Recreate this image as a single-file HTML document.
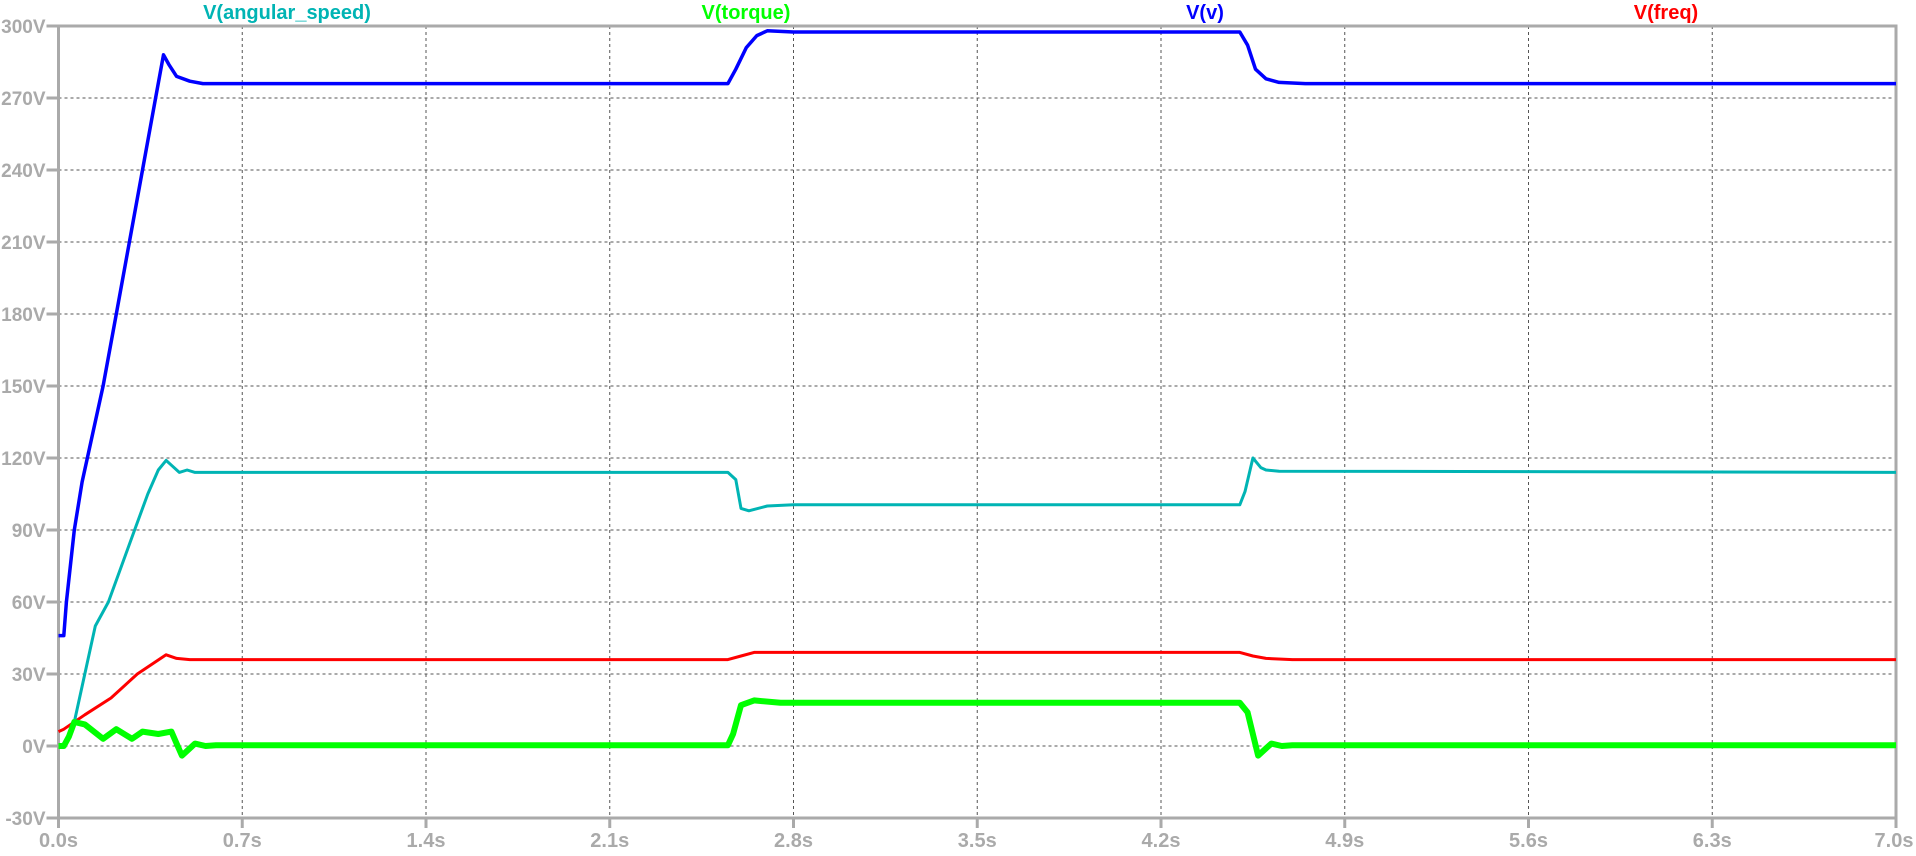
<!DOCTYPE html>
<html><head><meta charset="utf-8"><style>
html,body{margin:0;padding:0;background:#fff;}
svg{display:block;font-family:"Liberation Sans",Arial,sans-serif;}
</style></head><body>
<svg id="chart" width="1916" height="856" viewBox="0 0 1916 856" xmlns="http://www.w3.org/2000/svg">
<g id="grid"></g>
<g id="axes"></g>
<g id="series"></g>
<g id="legend"></g>
</svg>
<script>
const xTicks = [0,0.7,1.4,2.1,2.8,3.5,4.2,4.9,5.6,6.3,7.0];
const xTickLabels = ["0.0s","0.7s","1.4s","2.1s","2.8s","3.5s","4.2s","4.9s","5.6s","6.3s","7.0s"];
const yTicks = [-30,0,30,60,90,120,150,180,210,240,270,300];
const yTickLabels = ["-30V","0V","30V","60V","90V","120V","150V","180V","210V","240V","270V","300V"];
const seriesNames = ["V(angular_speed)","V(torque)","V(v)","V(freq)"];
const vT = [0,0.02,0.03,0.06,0.09,0.13,0.17,0.22,0.27,0.32,0.37,0.40,0.42,0.45,0.5,0.55,2.55,2.58,2.62,2.66,2.7,2.8,4.5,4.53,4.56,4.6,4.65,4.75,7.0];
const vV = [46,46,60,90,110,130,150,180,210,240,270,288,284,279,277,276,276,282,291,296,298,297.5,297.5,292,282,278,276.5,276,276];
const wT = [0,0.02,0.06,0.1,0.14,0.19,0.24,0.29,0.34,0.38,0.41,0.43,0.46,0.49,0.52,2.55,2.58,2.6,2.63,2.7,2.8,4.5,4.52,4.55,4.58,4.6,4.65,7.0];
const wV = [0,0,10,30,50,60,75,90,105,115,119,117,114,115,114,114,111,99,98,100,100.5,100.5,106,120,116,115,114.5,114];
const fT = [0,0.02,0.1,0.2,0.3,0.41,0.45,0.5,2.55,2.6,2.65,4.5,4.55,4.6,4.7,7.0];
const fV = [6,7,13,20,30,38,36.5,36,36,37.5,39,39,37.5,36.5,36,36];
const tT = [0,0.02,0.04,0.06,0.1,0.17,0.22,0.28,0.32,0.38,0.43,0.45,0.47,0.5,0.52,0.56,0.6,2.55,2.57,2.6,2.65,2.75,4.5,4.53,4.57,4.6,4.62,4.66,4.7,7.0];
const tV = [0,0,4,10,9,3,7,3,6,5,6,1,-4,-1,1,0,0.3,0.3,5,17,19,18,18,14,-4,-1,1,0,0.3,0.3];

const X0=58.5, X1=1896, Y0=818, Y1=26;
const xs = t => X0 + (t-0)/(7-0)*(X1-X0);
const ys = v => Y0 - (v+30)/330*(Y0-Y1);
const NS="http://www.w3.org/2000/svg";
function mk(tag, parent){const e=document.createElementNS(NS,tag);parent.appendChild(e);return e;}
const grid=document.getElementById('grid'), axes=document.getElementById('axes'), series=document.getElementById('series'), legend=document.getElementById('legend');

xTicks.forEach((t,i)=>{
  const x=xs(t);
  if(i>0 && i<xTicks.length-1){
    const g=mk('line',grid);
    
    
    g.setAttribute('x1',x);g.setAttribute('x2',x);g.setAttribute('y1',Y1);g.setAttribute('y2',Y0);
    g.setAttribute('stroke','#555');g.setAttribute('stroke-width','1');g.setAttribute('stroke-dasharray','3,3');
  }
  const tk=mk('line',axes);
  
  
  tk.setAttribute('x1',x);tk.setAttribute('x2',x);tk.setAttribute('y1',Y0);tk.setAttribute('y2',Y0+10);
  tk.setAttribute('stroke','#aaa');tk.setAttribute('stroke-width','3');
  const tx=mk('text',axes);
  
  
  tx.setAttribute('x',i===xTicks.length-1?x-2:x);tx.setAttribute('y',Y0+29);tx.setAttribute('text-anchor','middle');
  tx.setAttribute('fill','#aaa');tx.setAttribute('font-size','20');tx.setAttribute('font-weight','bold');
  tx.textContent=xTickLabels[i];
});
yTicks.forEach((v,i)=>{
  const y=ys(v);
  if(i>0 && i<yTicks.length-1){
    const g=mk('line',grid);
    
    
    g.setAttribute('x1',X0);g.setAttribute('x2',X1);g.setAttribute('y1',y);g.setAttribute('y2',y);
    g.setAttribute('stroke','#555');g.setAttribute('stroke-width','1');g.setAttribute('stroke-dasharray','3,3');
  }
  const tk=mk('line',axes);
  
  
  tk.setAttribute('x1',X0-12);tk.setAttribute('x2',X0);tk.setAttribute('y1',y);tk.setAttribute('y2',y);
  tk.setAttribute('stroke','#aaa');tk.setAttribute('stroke-width','3');
  const tx=mk('text',axes);
  
  
  tx.setAttribute('x',X0-13);tx.setAttribute('y',y+7);tx.setAttribute('text-anchor','end');
  tx.setAttribute('fill','#aaa');tx.setAttribute('font-size','19');tx.setAttribute('font-weight','bold');
  tx.textContent=yTickLabels[i];
});
const frame=mk('rect',axes);


frame.setAttribute('x',X0);frame.setAttribute('y',Y1);frame.setAttribute('width',X1-X0);frame.setAttribute('height',Y0-Y1);
frame.setAttribute('fill','none');frame.setAttribute('stroke','#aaa');frame.setAttribute('stroke-width','3');

function drawLine(T,V,color,w,name){
  const p=mk('path',series);
  
  
  p.setAttribute('d',T.map((t,i)=>(i?'L':'M')+xs(t).toFixed(1)+','+ys(V[i]).toFixed(1)).join(''));
  p.setAttribute('fill','none');p.setAttribute('stroke',color);p.setAttribute('stroke-width',w);p.setAttribute('stroke-linejoin','round');
}
drawLine(fT,fV,'#ff0000',3,'freq-line');
drawLine(wT,wV,'#00b4b4',3,'angular-speed-line');
drawLine(vT,vV,'#0000ff',3.5,'v-line');
drawLine(tT,tV,'#00ff00',6,'torque-line');

const legX=[287,746,1205,1666];
const legC=['#00b4b4','#00ff00','#0000ff','#ff0000'];
seriesNames.forEach((n,i)=>{
  const tx=mk('text',legend);
  
  
  tx.setAttribute('x',legX[i]);tx.setAttribute('y',19);tx.setAttribute('text-anchor','middle');
  tx.setAttribute('fill',legC[i]);tx.setAttribute('font-size','20');tx.setAttribute('font-weight','bold');
  tx.textContent=n;
});
</script>
</body></html>
